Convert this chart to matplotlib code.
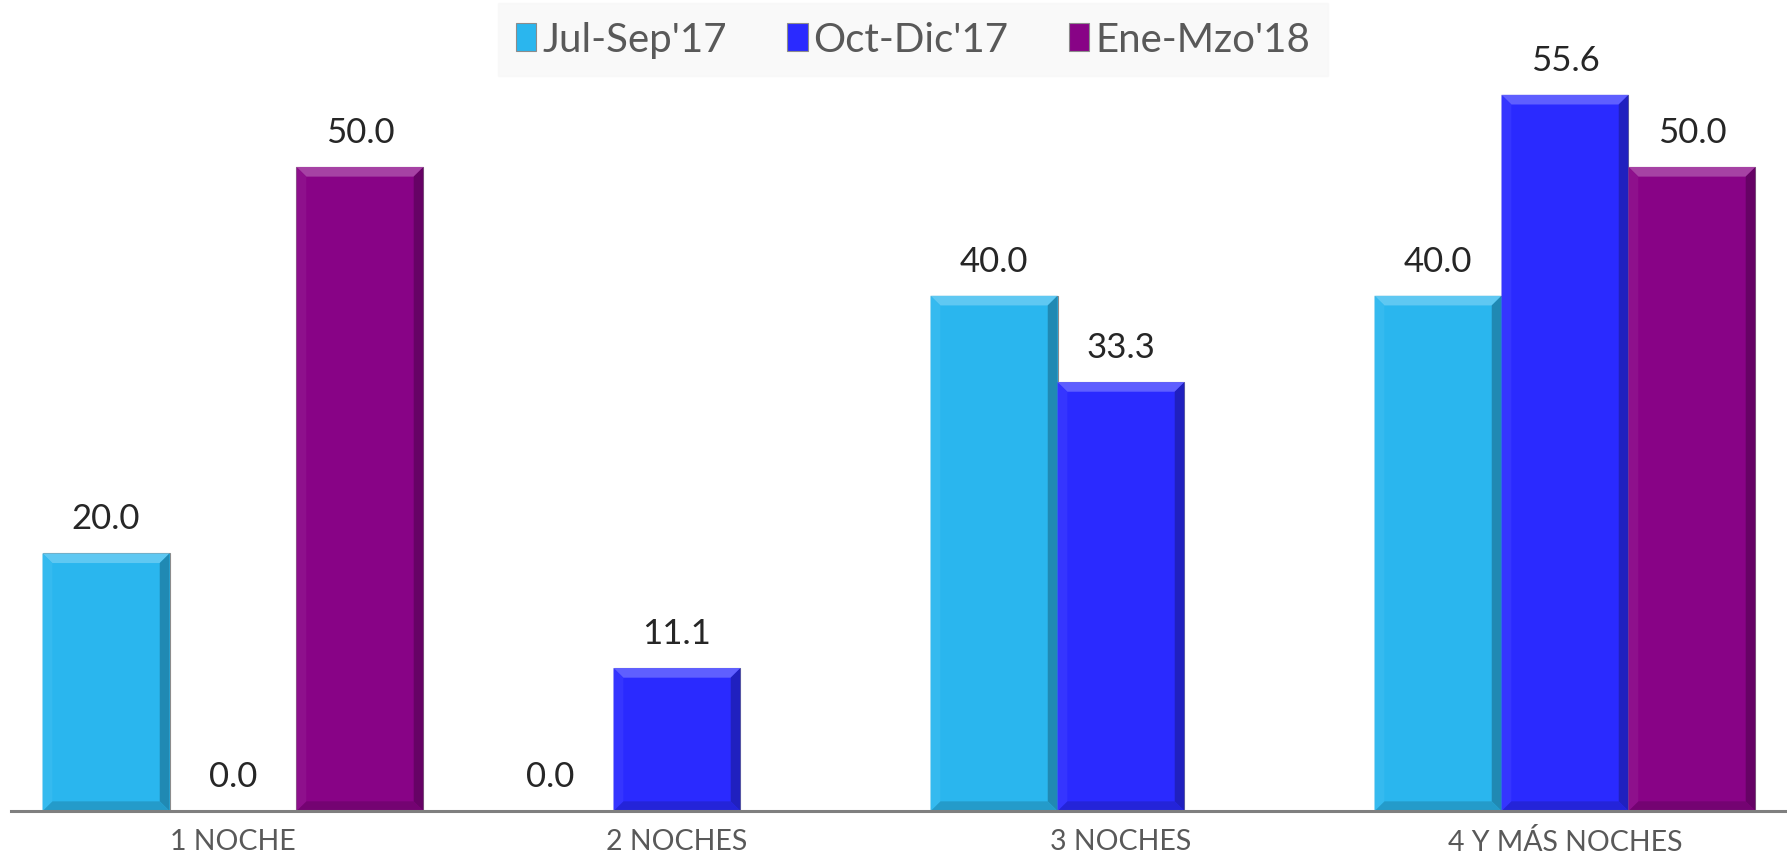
import numpy as np
import matplotlib.pyplot as plt
from matplotlib.patches import Polygon
from matplotlib.colors import to_rgb

plt.rcParams['font.family'] = ['Lato', 'DejaVu Sans']

# data
categories = ['1 NOCHE', '2 NOCHES', '3 NOCHES', '4 Y MÁS NOCHES']
series_names = ["Jul-Sep'17", "Oct-Dic'17", "Ene-Mzo'18"]
jul_sep_17 = [20.0, 0.0, 40.0, 40.0]
oct_dic_17 = [0.0, 11.1, 33.3, 55.6]
ene_mzo_18 = [50.0, np.nan, np.nan, 50.0]
colors = ['#2AB6EE', '#2A2AFF', '#880386']

fig = plt.figure(figsize=(17.87, 8.62), dpi=100)
ax = fig.add_axes([11 / 1787, 50 / 862, 1 - 11 / 1787, 812 / 862])

x = np.arange(len(categories))
width = 0.286
all_series = [jul_sep_17, oct_dic_17, ene_mzo_18]


def shade(c, f):
    r, g, b = to_rgb(c)
    if f > 0:
        return (r + (1 - r) * f, g + (1 - g) * f, b + (1 - b) * f)
    return (r * (1 + f), g * (1 + f), b * (1 + f))


for i, (vals, name, col) in enumerate(zip(all_series, series_names, colors)):
    vals = np.array(vals, dtype=float)
    bars = ax.bar(x + (i - 1) * width, vals, width, color=col, label=name,
                  edgecolor='#8c8c8c', linewidth=0.8, zorder=2)
    for b, v in zip(bars, vals):
        if np.isnan(v):
            continue
        # bevel look: light top, dark right/bottom
        x0, y0, w, h = b.get_x(), b.get_y(), b.get_width(), b.get_height()
        if h > 0:
            dx, dy = 0.022, 0.75
            x1, y1 = x0 + w, y0 + h
            ax.add_patch(Polygon([(x0, y1), (x1, y1), (x1 - dx, y1 - dy), (x0 + dx, y1 - dy)],
                                 closed=True, color=shade(col, 0.25), lw=0, zorder=3))
            ax.add_patch(Polygon([(x1, y1), (x1, y0), (x1 - dx, y0 + dy), (x1 - dx, y1 - dy)],
                                 closed=True, color=shade(col, -0.25), lw=0, zorder=3))
            ax.add_patch(Polygon([(x0, y0), (x1, y0), (x1 - dx, y0 + dy), (x0 + dx, y0 + dy)],
                                 closed=True, color=shade(col, -0.15), lw=0, zorder=3))
            ax.add_patch(Polygon([(x0, y0), (x0, y1), (x0 + dx, y1 - dy), (x0 + dx, y0 + dy)],
                                 closed=True, color=shade(col, 0.05), lw=0, zorder=3))
        ax.annotate(f'{v:.1f}', (b.get_x() + w / 2, v), xytext=(0, 19),
                    textcoords='offset pixels', ha='center', va='bottom',
                    fontsize=25, color='#262626')

ax.set_xlim(-0.5, 3.5)
ax.set_ylim(0, 63.04)
ax.set_xticks(x)
ax.set_xticklabels(categories, fontsize=20.5, color='#595959')
ax.tick_params(axis='x', length=0, pad=12)
ax.set_yticks([])
for s in ['top', 'left', 'right']:
    ax.spines[s].set_visible(False)
ax.spines['bottom'].set_color('#7f7f7f')
ax.spines['bottom'].set_linewidth(2.2)
ax.spines['bottom'].set_zorder(4)

leg = fig.legend(loc='upper center', bbox_to_anchor=(0.511, 1.0), ncol=3,
                 fontsize=29, frameon=True, fancybox=False, borderaxespad=0.1,
                 handlelength=0.5, handleheight=0.7, handletextpad=0.15,
                 columnspacing=1.5, borderpad=0.45, labelcolor='#595959')
leg.get_frame().set_facecolor('#f8f8f8')
leg.get_frame().set_edgecolor('#f8f8f8')

fig.savefig('out.png', dpi=100)
